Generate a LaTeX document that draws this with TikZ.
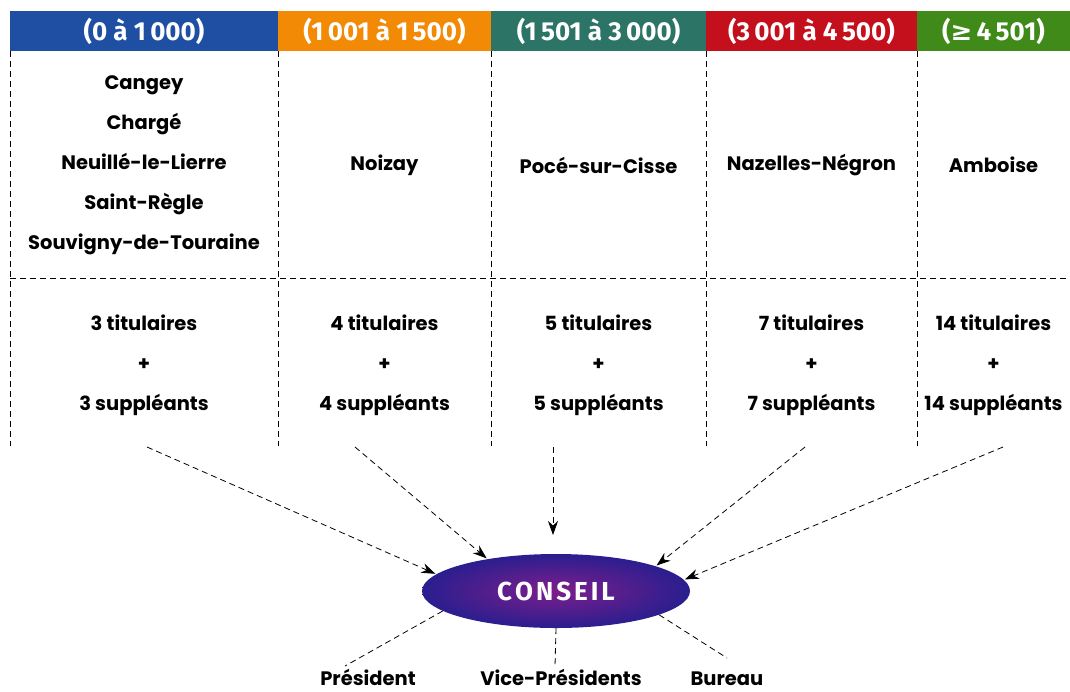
\documentclass[tikz,border=0pt]{standalone}
\usepackage{fontspec}
\setmainfont{Poppins}
\newfontfamily\hdrfont{Fira Sans}
\newfontfamily\symfont{DejaVu Sans}
\usepackage{xcolor}
\usetikzlibrary{shapes,arrows.meta}

\definecolor{hblue}{HTML}{1F4FA3}
\definecolor{horange}{HTML}{F28A05}
\definecolor{hteal}{HTML}{2B7466}
\definecolor{hred}{HTML}{C3101C}
\definecolor{hgreen}{HTML}{3F8A18}
\definecolor{cblue}{HTML}{2A1E8E}
\definecolor{cmag}{HTML}{7E1E8C}

\begin{document}
\begin{tikzpicture}[x=1pt,y=-1pt,font=\bfseries\fontsize{19.5}{22}\selectfont,
        hdr/.style={inner sep=0pt,minimum height=40pt,text=white,font=\hdrfont\bfseries\fontsize{26}{28}\selectfont},
        cell/.style={align=center,inner sep=0pt},
        sep/.style={dash pattern=on 6pt off 4pt,line width=0.8pt},
        feed/.style={sep,shorten >=1pt,
            arrows={-Stealth[length=14pt,width=10pt]}}]
                \useasboundingbox (0,0) rectangle (1070,691);
                % header
                \node[hdr,fill=hblue,minimum width=268pt] (h1) at (144,31) {(0 à 1\,000)};
                \node[hdr,fill=horange,minimum width=213pt] (h2) at (384.5,31) {(1\,001 à 1\,500)};
                \node[hdr,fill=hteal,minimum width=215pt] (h3) at (598.5,31) {(1\,501 à 3\,000)};
                \node[hdr,fill=hred,minimum width=211pt] (h4) at (811.5,31) {(3\,001 à 4\,500)};
                \node[hdr,fill=hgreen,minimum width=153pt] (h5) at (993.5,31) {({\symfont ≥}\,4\,501)};
                % grid
                \foreach \x in {10,278,491,706,917}
                    \draw[sep] (\x,51) -- (\x,446);
                \draw[sep] (10,278) -- (1070,278);
                % communes
                \node[cell] (c1) at (144,165) {Cangey\\[18pt]Chargé\\[18pt]Neuillé-le-Lierre\\[18pt]Saint-Règle\\[18pt]Souvigny-de-Touraine};
                \node[cell] (c2) at (384.5,165) {Noizay};
                \node[cell] (c3) at (598.5,165) {Pocé-sur-Cisse};
                \node[cell] (c4) at (811.5,165) {Nazelles-Négron};
                \node[cell] (c5) at (993.5,165) {Amboise};
                % delegues
                \node[cell] (d1) at (144,365) {3 titulaires\\[18pt]+\\[18pt]3 suppléants};
                \node[cell] (d2) at (384.5,365) {4 titulaires\\[18pt]+\\[18pt]4 suppléants};
                \node[cell] (d3) at (598.5,365) {5 titulaires\\[18pt]+\\[18pt]5 suppléants};
                \node[cell] (d4) at (811.5,365) {7 titulaires\\[18pt]+\\[18pt]7 suppléants};
                \node[cell] (d5) at (993.5,365) {14 titulaires\\[18pt]+\\[18pt]14 suppléants};
                % conseil
                \node[ellipse,minimum width=268pt,minimum height=74pt,inner sep=0pt,
                      inner color=cmag,outer color=cblue,text=white,
                      font=\hdrfont\bfseries\fontsize{26}{28}\selectfont] (cons) at (556,591)
                      {C\kern3pt O\kern3pt N\kern3pt S\kern3pt E\kern3pt I\kern3pt L};
                \coordinate (s1) at (147,447);
                \coordinate (s2) at (355,447);
                \coordinate (s3) at (553,447);
                \coordinate (s4) at (805,447);
                \coordinate (s5) at (1003,447);
                \path
                    (s1) edge[feed] (cons.172)
                    (s2) edge[feed] (cons.155)
                    (s3) edge[feed] (553,536)
                    (s4) edge[feed] (cons.14)
                    (s5) edge[feed] (cons.5);
                % bureau
                \node[anchor=base,inner sep=0pt] (pres) at (368,685) {Président};
                \node[anchor=base,inner sep=0pt] (vice) at (561,685) {Vice-Présidents};
                \node[anchor=base,inner sep=0pt] (bur) at (727,685) {Bureau};
                \draw[sep] (cons.-170) -- (345,666);
                \draw[sep] (cons.south) -- (555,666);
                \draw[sep] (cons.-13) -- (727,658);
            \end{tikzpicture}
\end{document}
